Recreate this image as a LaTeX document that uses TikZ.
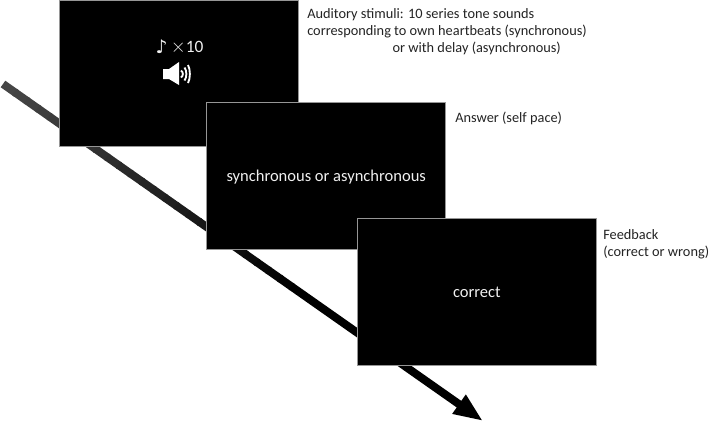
\documentclass[tikz,border=0pt]{standalone}
\usepackage{fontspec}
\setmainfont{Carlito}
\newfontfamily\symbolfont{DejaVu Sans}
\usepackage{tikz}
\usetikzlibrary{arrows.meta, positioning, calc}
\definecolor{screenframe}{RGB}{150, 150, 150}
\definecolor{screentext}{RGB}{240, 240, 240}
\definecolor{notetext}{RGB}{35, 35, 35}
\definecolor{timestart}{RGB}{70, 70, 70}

\begin{document}
\begin{tikzpicture}[
    x=0.75pt, y=-0.75pt,
    screen/.style={draw=screenframe, fill=black, line width=0.6pt, outer sep=0pt, minimum width=179.4pt, minimum height=110pt, text=screentext, text height=9.5pt, text depth=0pt, font=\fontsize{12.4}{14}\selectfont},
    note/.style={anchor=north west, inner sep=0pt, align=left, text=notetext, font=\fontsize{10.75}{12.75}\selectfont},
    timeline/.style={line width=6pt},
    wave/.style={draw=white, line width=1.4pt}
    ]
    \useasboundingbox (0,0) rectangle (709,422);

    % Time axis
    \coordinate (tstart) at (3,84);
    \coordinate (tmid) at ($(tstart)!0.6!(483,421)$);
    \coordinate (ttip) at (483,421);
    \foreach \p in {0,4,...,96} {
        \draw[timeline, black!\p!timestart] ($(tstart)!\p/100!(tmid)$) -- ($(tstart)!\p/100+0.045!(tmid)$);
      }
    \draw[timeline, -{Triangle[length=22pt, width=16pt]}, black] (tmid) -- (ttip);

    % Screens
    \node[screen] (cue) at (178.5,73.5) {};
    \node[screen, below right=-33.4pt and -68.6pt of cue] (answer) {synchronous or asynchronous};
    \node[screen, below right=-23pt and -66.4pt of answer] (feedback) {correct};

    % Tone and speaker
    \node[text=screentext, font=\symbolfont\fontsize{14}{16}\selectfont, inner sep=0pt] (tone) at (161.5,47) {♪};
    \node[text=screentext, right=2.2pt of tone, yshift=-0.6pt, font=\fontsize{13}{15}\selectfont, inner sep=0pt] (times) {{\fontsize{15}{15}\selectfont$\times$}10};
    \fill[white] (163,69) -- (169,69) -- (179,62) -- (179,85) -- (169,79) -- (163,79) -- cycle;
    \foreach \r/\h in {3/3.5, 6.5/6.5, 10/9} {
        \draw[wave] (178+\r,74-\h) .. controls (180.5+\r,74-\h/2) and (180.5+\r,74+\h/2) .. (178+\r,74+\h);
      }

    % Notes beside the screens
    \node[note] (cuenote) at (307,8.5) {Auditory stimuli: 10 series tone sounds\\corresponding to own heartbeats (synchronous)\\\hspace*{64pt}or with delay (asynchronous)};
    \node[note] (answernote) at (455,112) {Answer (self pace)};
    \node[note] (feedbacknote) at (603,229) {Feedback\\(correct or wrong)};
  \end{tikzpicture}
\end{document}
